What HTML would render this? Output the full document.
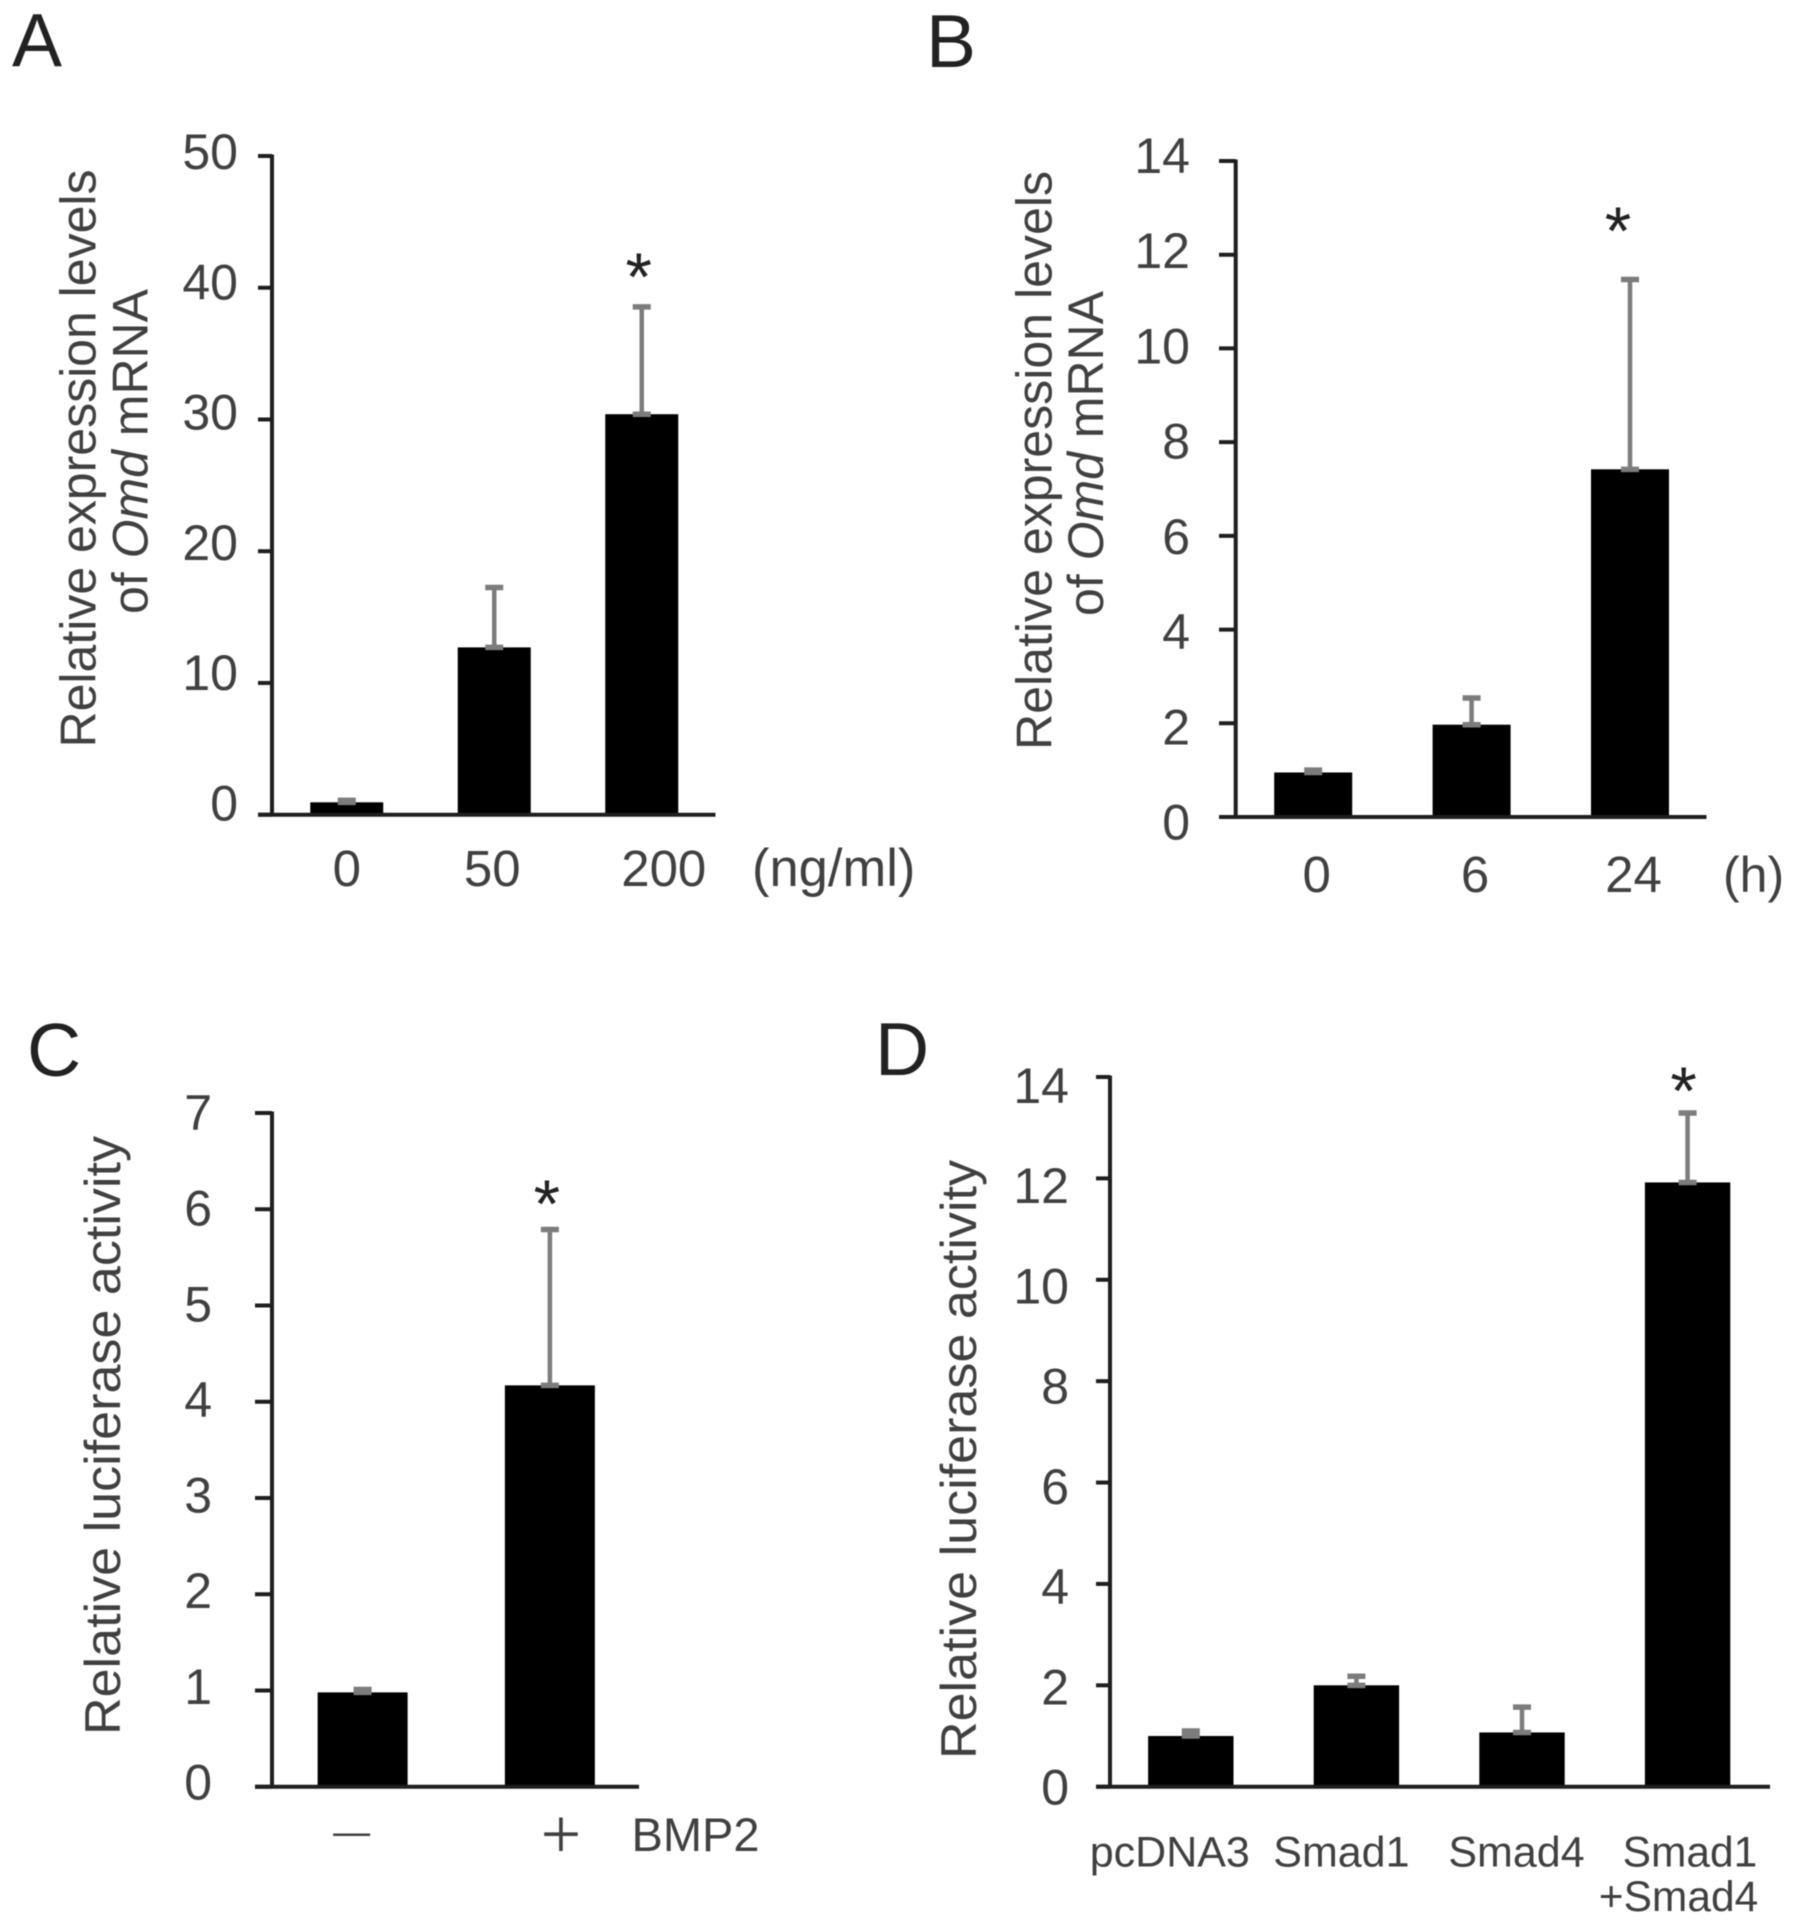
<!DOCTYPE html>
<html lang="en">
<head>
<meta charset="utf-8">
<title>Relative Omd expression and luciferase activity</title>
<style>
  html, body { margin: 0; padding: 0; background: #fff; }
  svg { display: block; filter: blur(0.6px); }
  text { font-family: "Liberation Sans", Arial, sans-serif; fill: #404040; }
  .panel-letter { font-size: 75px; fill: #222; }
  .y-title { font-size: 50px; }
</style>
</head>
<body>
<svg id="figure" xmlns="http://www.w3.org/2000/svg" width="1795" height="1928" viewBox="0 0 1795 1928">
  <rect width="1795" height="1928" fill="#fff"/>

  <text class="panel-letter" x="12" y="66">A</text>
  <text class="panel-letter" x="926" y="67">B</text>
  <text class="panel-letter" x="27" y="1076">C</text>
  <text class="panel-letter" x="875" y="1075">D</text>

  <text class="y-title" transform="translate(95.5 747.5) rotate(-90)" textLength="578" lengthAdjust="spacingAndGlyphs">Relative expression levels</text>
  <text class="y-title" transform="translate(147.5 614) rotate(-90)" textLength="325" lengthAdjust="spacingAndGlyphs">of <tspan font-style="italic">Omd</tspan> mRNA</text>

  <text class="y-title" transform="translate(1051.5 750) rotate(-90)" textLength="579" lengthAdjust="spacingAndGlyphs">Relative expression levels</text>
  <text class="y-title" transform="translate(1103 616) rotate(-90)" textLength="325" lengthAdjust="spacingAndGlyphs">of <tspan font-style="italic">Omd</tspan> mRNA</text>

  <text class="y-title" transform="translate(120 1735) rotate(-90)" textLength="599" lengthAdjust="spacingAndGlyphs">Relative luciferase activity</text>
  <text class="y-title" transform="translate(976 1759) rotate(-90)" textLength="599" lengthAdjust="spacingAndGlyphs">Relative luciferase activity</text>

  <text x="752" y="886" font-size="52.5">(ng/ml)</text>
  <text x="1723" y="892" font-size="50">(h)</text>
  <text x="631.5" y="1851" font-size="47">BMP2</text>

  <g id="marks"></g>
</svg>

<script>
// Panel A data
const aCategories = ['0', '50', '200'];
const aValues = [0.94, 12.7, 30.4];
const aErrors = [0.15, 4.55, 8.15];
const aTicks = [0, 10, 20, 30, 40, 50];
const aSignificant = [false, false, true];

// Panel B data
const bCategories = ['0', '6', '24'];
const bValues = [0.95, 1.97, 7.42];
const bErrors = [0.05, 0.57, 4.05];
const bTicks = [0, 2, 4, 6, 8, 10, 12, 14];
const bSignificant = [false, false, true];

// Panel C data
const cCategories = ['\u2014', '+'];
const cValues = [0.98, 4.17];
const cErrors = [0.03, 1.62];
const cTicks = [0, 1, 2, 3, 4, 5, 6, 7];
const cSignificant = [false, true];

// Panel D data
const dCategories = ['pcDNA3', 'Smad1', 'Smad4', 'Smad1|+Smad4'];
const dValues = [1.0, 2.0, 1.07, 11.92];
const dErrors = [0.1, 0.18, 0.5, 1.37];
const dTicks = [0, 2, 4, 6, 8, 10, 12, 14];
const dSignificant = [false, false, false, true];

// Layout only: no data values below
const panels = [
  { id: 'a', categories: aCategories, values: aValues, errors: aErrors, ticks: aTicks, significant: aSignificant,
    axisX: 272, tickLeft: 258, top: 156, bottom: 814.7, bandStart: 273, bandEnd: 715.5, axisEnd: 715.5, barWidth: 73,
    labelRight: 238, labelTopCenter: 151.5, labelBottomCenter: 803, tickFont: 50,
    xFont: [51, 51, 51], xBaseline: [886, 886, 886], xOffset: [0, -2, 22], starDx: -3, starBaseline: 300 },
  { id: 'b', categories: bCategories, values: bValues, errors: bErrors, ticks: bTicks, significant: bSignificant,
    axisX: 1235.7, tickLeft: 1219, top: 161, bottom: 817, bandStart: 1234, bandEnd: 1709.2, axisEnd: 1706.5, barWidth: 78,
    labelRight: 1190, labelTopCenter: 155.5, labelBottomCenter: 822, tickFont: 50,
    xFont: [51, 51, 51], xBaseline: [892, 892, 892], xOffset: [3.5, 3.5, 3.5], starDx: -12, starBaseline: 254 },
  { id: 'c', categories: cCategories, values: cValues, errors: cErrors, ticks: cTicks, significant: cSignificant,
    axisX: 272, tickLeft: 255, top: 1113, bottom: 1786.7, bandStart: 269, bandEnd: 643.5, axisEnd: 639, barWidth: 90,
    labelRight: 212, labelTopCenter: 1112.5, labelBottomCenter: 1782, tickFont: 50,
    xFont: [37, 72], xFamily: [null, '"Liberation Serif", serif'], xBaseline: [1844, 1858], xOffset: [-11, 11], starDx: -3, starBaseline: 1227 },
  { id: 'd', categories: dCategories, values: dValues, errors: dErrors, ticks: dTicks, significant: dSignificant,
    axisX: 1110, tickLeft: 1096, top: 1077, bottom: 1786.7, bandStart: 1108, bandEnd: 1770.4, axisEnd: 1770, barWidth: 85.4,
    labelRight: 1069, labelTopCenter: 1085.5, labelBottomCenter: 1787, tickFont: 50,
    xFont: [43, 43, 43, 42.5], xBaseline: [1866.7, 1866.7, 1866.7, 1866.7], xOffset: [-21, -15, -5.5, 2.4],
    secondLineDx: -11.5, secondLineBaseline: 1911, starDx: -4, starBaseline: 1114 }
];

const SVG_NS = 'http://www.w3.org/2000/svg';
const AXIS_COLOR = '#1e1e1e';
const ERROR_COLOR = '#7c7c7c';
const root = document.getElementById('marks');

function make(tag, parent, attrs) {
  const node = document.createElementNS(SVG_NS, tag);
  for (const key in attrs) node.setAttribute(key, attrs[key]);
  parent.appendChild(node);
  return node;
}

panels.forEach(function (p) {
  const tickMax = p.ticks[p.ticks.length - 1];
  const tickMin = p.ticks[0];
  const y = function (v) { return p.bottom - (v - tickMin) / (tickMax - tickMin) * (p.bottom - p.top); };
  const labelY = function (v) { return p.labelBottomCenter - (v - tickMin) / (tickMax - tickMin) * (p.labelBottomCenter - p.labelTopCenter); };
  const step = (p.bandEnd - p.bandStart) / p.categories.length;
  const x = function (i) { return p.bandStart + step * (i + 0.5); };

  const group = make('g', root, {});
  
  

  p.values.forEach(function (v, i) {
    const bar = make('rect', group, { x: x(i) - p.barWidth / 2, y: y(v), width: p.barWidth, height: p.bottom - y(v), fill: '#000' });
    
    
  });

  p.values.forEach(function (v, i) {
    const high = y(v + p.errors[i]);
    const low = y(v);
    const stem = make('line', group, { x1: x(i), x2: x(i), y1: low, y2: high, stroke: ERROR_COLOR, 'stroke-width': 4.5 });
    
    

    const caps = make('path', group, {
      d: 'M' + (x(i) - 9) + ' ' + high + 'H' + (x(i) + 9) + 'M' + (x(i) - 9) + ' ' + low + 'H' + (x(i) + 9),
      stroke: ERROR_COLOR, 'stroke-width': 5.5, fill: 'none'
    });
    
    
  });

  const yAxis = make('line', group, { x1: p.axisX, x2: p.axisX, y1: p.top - 1.5, y2: p.bottom, stroke: AXIS_COLOR, 'stroke-width': 4 });
  
  

  const xAxis = make('line', group, { x1: p.tickLeft, x2: p.axisEnd, y1: p.bottom, y2: p.bottom, stroke: AXIS_COLOR, 'stroke-width': 4 });
  
  

  p.ticks.forEach(function (t) {
    const tick = make('line', group, { x1: p.tickLeft, x2: p.axisX, y1: y(t), y2: y(t), stroke: AXIS_COLOR, 'stroke-width': 4 });
    
    

    const tickLabel = make('text', group, { x: p.labelRight, y: labelY(t) + p.tickFont * 0.35, 'text-anchor': 'end', 'font-size': p.tickFont });
    tickLabel.textContent = String(t);
    
    
  });

  p.categories.forEach(function (c, i) {
    const lines = c.split('|');
    const label = make('text', group, { x: x(i) + p.xOffset[i], y: p.xBaseline[i], 'text-anchor': 'middle', 'font-size': p.xFont[i] });
    if (p.xFamily && p.xFamily[i]) label.setAttribute('style', 'font-family:' + p.xFamily[i]);
    label.textContent = lines[0];
    
    
    if (lines[1]) {
      const second = make('text', group, { x: x(i) + p.xOffset[i] + p.secondLineDx, y: p.secondLineBaseline, 'text-anchor': 'middle', 'font-size': p.xFont[i] });
      second.textContent = lines[1];
      
      
    }
    if (p.significant[i]) {
      const star = make('text', group, { x: x(i) + p.starDx, y: p.starBaseline, 'text-anchor': 'middle', 'font-size': 68, style: 'fill:#222' });
      star.textContent = '*';
      
      
    }
  });
});
</script>
</body>
</html>
